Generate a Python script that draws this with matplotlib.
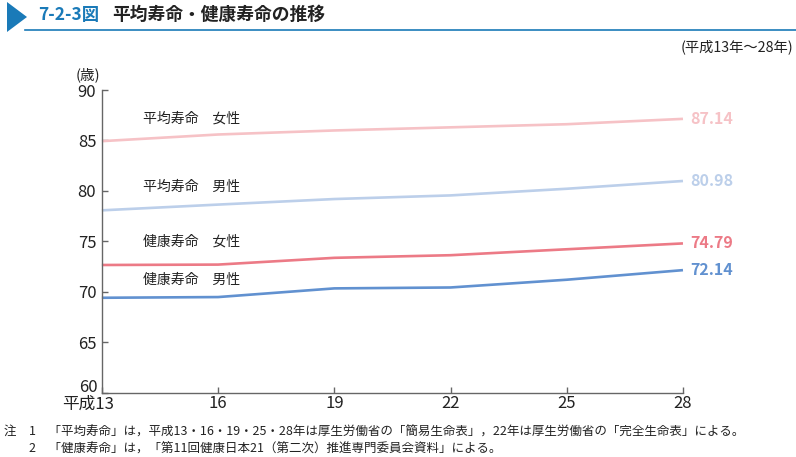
import matplotlib
matplotlib.use("Agg")
import matplotlib.pyplot as plt
from matplotlib.patches import Polygon
from matplotlib.transforms import ScaledTranslation

plt.rcParams['font.family'] = ['Noto Sans CJK JP', 'DejaVu Sans']

# 平成の年
years = [13, 16, 19, 22, 25, 28]
year_labels = ['平成13', '16', '19', '22', '25', '28']
yticks = [60, 65, 70, 75, 80, 85, 90]

# 平均寿命・健康寿命（歳）
heikin_josei = [84.93, 85.59, 85.99, 86.30, 86.61, 87.14]
heikin_dansei = [78.07, 78.64, 79.19, 79.55, 80.21, 80.98]
kenko_josei = [72.65, 72.69, 73.36, 73.62, 74.21, 74.79]
kenko_dansei = [69.40, 69.47, 70.33, 70.42, 71.19, 72.14]

series = [
    ('平均寿命　女性', heikin_josei, '#f6c2c6', 87.2),
    ('平均寿命　男性', heikin_dansei, '#bccfea', 80.4),
    ('健康寿命　女性', kenko_josei, '#ec7a86', 74.95),
    ('健康寿命　男性', kenko_dansei, '#6191d0', 71.2),
]

fig = plt.figure(figsize=(7.96, 4.57), dpi=100)
ax = fig.add_axes([0.128, 0.141, 0.730, 0.662])

for name, vals, col, ylab in series:
    ax.plot(years, vals, color=col, lw=1.9, solid_capstyle='butt', clip_on=False)
    ax.text(14.05, ylab, name, fontsize=10, color='#222222', va='center', ha='left')
    ax.text(28.2, vals[-1], f'{vals[-1]:.2f}', fontsize=11.5, color=col,
            fontweight='bold', va='center', ha='left')

ax.set_xlim(13, 28)
ax.set_ylim(60, 90)
ax.set_xticks(years)
ax.set_xticklabels([''] + year_labels[1:])
ax.set_yticks(yticks)
ax.set_yticklabels([''] + [str(v) for v in yticks[1:]])
for s in ['top', 'right']:
    ax.spines[s].set_visible(False)
for s in ['left', 'bottom']:
    ax.spines[s].set_color('#666666')
    ax.spines[s].set_linewidth(1.0)
ax.tick_params(axis='both', direction='in', length=4, width=1, color='#666666',
               labelsize=12, labelcolor='#222222')
ax.tick_params(axis='y', pad=4)
ax.tick_params(axis='x', pad=2)

# 原点付近のラベルは重ならないようにずらす
bx = ax.get_xaxis_transform()
ax.text(years[0], 0, year_labels[0], fontsize=12, color='#222222', ha='center', va='top',
        transform=bx + ScaledTranslation(-14 / 100, -3 / 100, fig.dpi_scale_trans))
by = ax.get_yaxis_transform()
ax.text(0, yticks[0], str(yticks[0]), fontsize=12, color='#222222', ha='right', va='center',
        transform=by + ScaledTranslation(-4 / 100, 5 / 100, fig.dpi_scale_trans))

ax.text(-0.003, 1.05, '(歳)', transform=ax.transAxes, fontsize=10.5, ha='right', va='center',
        color='#222222')

# 見出し
fig.patches.append(Polygon([[7, 457 - 2], [7, 457 - 32], [27, 457 - 17]], closed=True,
                           transform=None, facecolor='#1a7ab8', edgecolor='none'))
fig.lines.append(plt.Line2D([25 / 796, 1], [1 - 29.5 / 457] * 2, transform=fig.transFigure,
                            color='#1a7ab8', lw=1.2))
fig.text(38 / 796, 1 - 15 / 457, '7-2-3図', fontsize=12.5, fontweight='bold',
         color='#1a7ab8', va='center', ha='left')
fig.text(112 / 796, 1 - 15 / 457, '平均寿命・健康寿命の推移', fontsize=12.8, fontweight='bold',
         color='#222222', va='center', ha='left')
fig.text(793 / 796, 1 - 47 / 457, '(平成13年～28年)', fontsize=10.3, color='#222222',
         va='center', ha='right')

# 注
fig.text(4 / 796, 1 - 432 / 457,
         '注　1　「平均寿命」は，平成13・16・19・25・28年は厚生労働省の「簡易生命表」，22年は厚生労働省の「完全生命表」による。',
         fontsize=9.0, color='#222222', va='center', ha='left')
fig.text(4 / 796, 1 - 449 / 457,
         '　　2　「健康寿命」は，「第11回健康日本21（第二次）推進専門委員会資料」による。',
         fontsize=9.0, color='#222222', va='center', ha='left')

fig.savefig('out.png', dpi=100)
